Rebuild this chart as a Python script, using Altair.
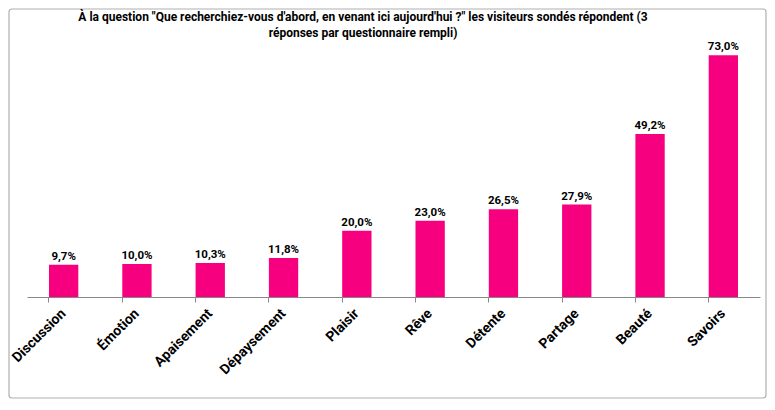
import altair as alt
import pandas as pd

categories = ["Discussion", "Émotion", "Apaisement", "Dépaysement", "Plaisir",
              "Rêve", "Détente", "Partage", "Beauté", "Savoirs"]
values = [9.7, 10.0, 10.3, 11.8, 20.0, 23.0, 26.5, 27.9, 49.2, 73.0]
title_lines = ["À la question \"Que recherchiez-vous d'abord, en venant ici aujourd'hui ?\" les visiteurs sondés répondent (3",
               "réponses par questionnaire rempli)"]

df = pd.DataFrame({"cat": categories, "val": values})
df["label"] = [f"{v:.1f}".replace(".", ",") + "%" for v in values]

FONT = "Roboto"
PINK = "#F7007F"

x_enc = alt.X("cat:N", sort=categories, title=None,
              scale=alt.Scale(paddingInner=0.6, paddingOuter=0.3),
              axis=alt.Axis(labelAngle=-45, labelAlign="right", labelBaseline="middle",
                            labelFont=FONT, labelFontSize=14, labelFontWeight="bold",
                            labelColor="#000", labelPadding=9, bandPosition=0,
                            tickSize=5, tickColor="#888", domainColor="#888", grid=False))
y_enc = alt.Y("val:Q", scale=alt.Scale(domain=[0, 80]), axis=None)

base = alt.Chart(df)
bars = base.mark_bar(color=PINK).encode(x=x_enc, y=y_enc)
texts = base.mark_text(dy=-8, font=FONT, fontSize=11.5, fontWeight="bold", color="#000").encode(
    x=alt.X("cat:N", sort=categories), y="val:Q", text="label:N")

one = pd.DataFrame({"k": [0]})
border = alt.Chart(one).mark_rect(fill=None, stroke="#B0B0B0", strokeWidth=1.2, cornerRadius=3).encode(
    x=alt.value(-18), x2=alt.value(739), y=alt.value(-23), y2=alt.value(366))
title = alt.Chart(one).mark_text(font=FONT, fontSize=12, fontWeight="bold", color="#000",
                                 lineHeight=16, align="center", baseline="middle").encode(
    x=alt.value(336), y=alt.value(-15), text=alt.value(title_lines))

chart = alt.layer(border, bars, texts, title).properties(
    width=733, height=265,
    padding={"left": 19, "top": 24, "right": 7, "bottom": 102},
    autosize=alt.AutoSizeParams(type="none"),
).configure_view(stroke=None)

chart.save("out.html", embed_options={"renderer": "svg", "actions": False})
